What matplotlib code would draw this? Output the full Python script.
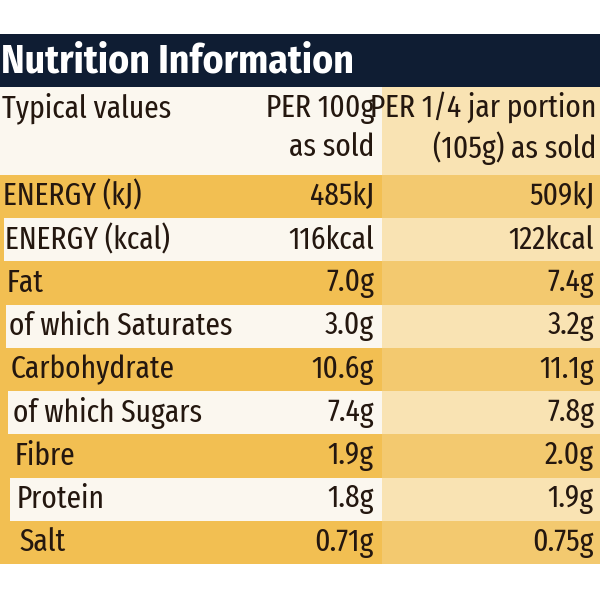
import matplotlib
matplotlib.use("Agg")
import matplotlib.pyplot as plt
from matplotlib.patches import Rectangle

# table content
title = "Nutrition Information"
col_heads = ["Typical values", "PER 100g\nas sold", "PER 1/4 jar portion\n(105g) as sold"]
labels = ["ENERGY (kJ)", "ENERGY (kcal)", "Fat", "of which Saturates", "Carbohydrate",
          "of which Sugars", "Fibre", "Protein", "Salt"]
per_100g = ["485kJ", "116kcal", "7.0g", "3.0g", "10.6g", "7.4g", "1.9g", "1.8g", "0.71g"]
per_portion = ["509kJ", "122kcal", "7.4g", "3.2g", "11.1g", "7.8g", "2.0g", "1.9g", "0.75g"]

NAVY = "#0f1d33"
GOLD = "#f2bf52"
GOLD_R = "#f3c96f"
PALE_L = "#fbf7ef"
PALE_R = "#f9e3b3"
INK = "#24170f"
FONT = ["Fira Sans Extra Condensed", "DejaVu Sans"]
TFONT = ["Fira Sans Condensed", "DejaVu Sans"]
FS = 23

fig = plt.figure(figsize=(6, 6), dpi=100)
ax = fig.add_axes([0, 0, 1, 1])
ax.set_xlim(0, 600)
ax.set_ylim(600, 0)
ax.axis("off")

split = 382
band_top, band_bot = 34, 87
rows_top, rows_bot = 175, 564
rh = (rows_bot - rows_top) / len(labels)

# title band
ax.add_patch(Rectangle((0, band_top), 600, band_bot - band_top, color=NAVY, lw=0))
ax.text(1, (band_top + band_bot) / 2 + 1, title, color="white", fontsize=28.5,
        fontweight="bold", family=TFONT, va="center", ha="left")

# header block
ax.add_patch(Rectangle((0, band_bot), split, rows_top - band_bot, color=PALE_L, lw=0))
ax.add_patch(Rectangle((split, band_bot), 600 - split, rows_top - band_bot, color=PALE_R, lw=0))
ax.text(2, 108, col_heads[0], color=INK, fontsize=FS, family=FONT, va="center")
ax.text(374, 128, col_heads[1], color=INK, fontsize=FS, family=FONT, va="center",
        ha="right", linespacing=1.3)
ax.text(596, 128, col_heads[2], color=INK, fontsize=FS, family=FONT, va="center",
        ha="right", linespacing=1.3)

# nutrient rows
for i, (lab, a, b) in enumerate(zip(labels, per_100g, per_portion)):
    y0 = rows_top + i * rh
    yc = y0 + rh / 2
    ax.add_patch(Rectangle((0, y0), split, rh, color=GOLD, lw=0))
    if i % 2 == 0:
        ax.add_patch(Rectangle((split, y0), 600 - split, rh, color=GOLD_R, lw=0))
    else:
        ax.add_patch(Rectangle((3 + i, y0), split - 3 - i, rh, color=PALE_L, lw=0))
        ax.add_patch(Rectangle((split, y0), 600 - split, rh, color=PALE_R, lw=0))
    ax.text(3 + 2 * i, yc, lab, color=INK, fontsize=FS, family=FONT, va="center")
    ax.text(374, yc, a, color=INK, fontsize=FS, family=FONT, va="center", ha="right")
    ax.text(594, yc, b, color=INK, fontsize=FS, family=FONT, va="center", ha="right")

fig.savefig("out.png", dpi=100, facecolor="white")
